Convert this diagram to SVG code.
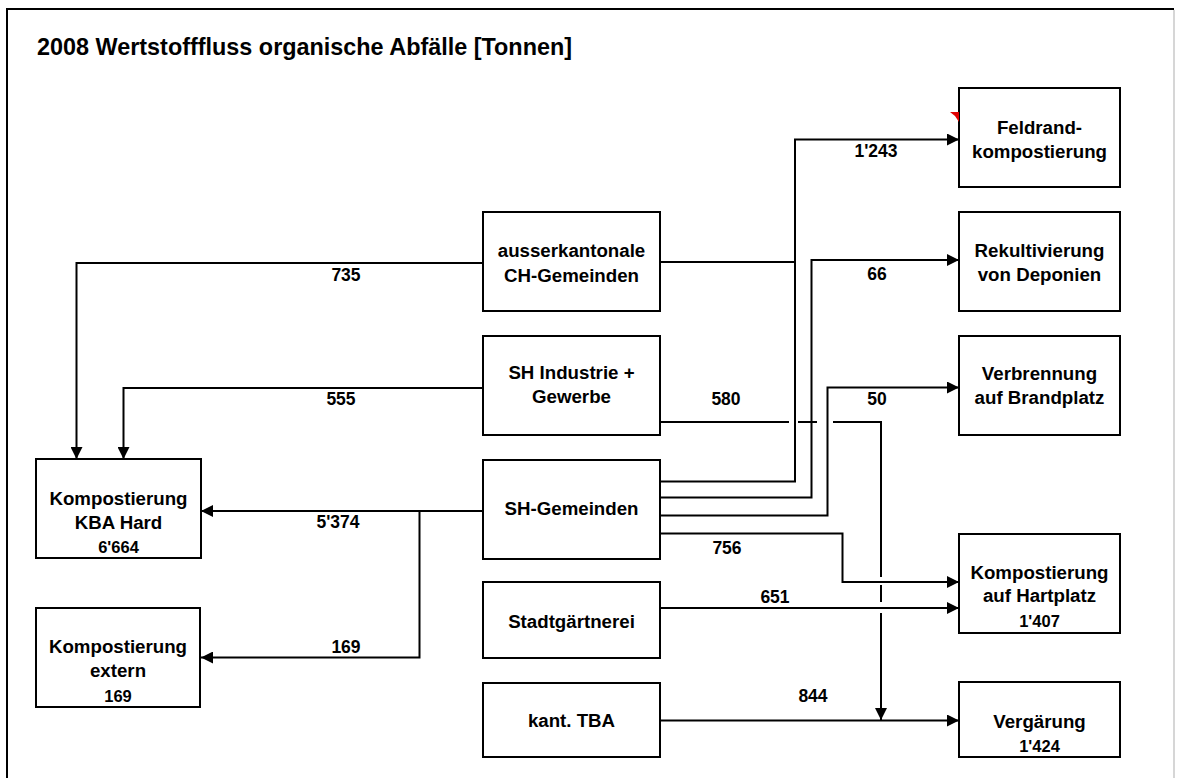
<svg xmlns="http://www.w3.org/2000/svg" width="1183" height="778" viewBox="0 0 1183 778">
<style>
.bx{fill:#fff;stroke:#000;stroke-width:2}
.t{font-family:"Liberation Sans",Arial,sans-serif;font-weight:bold;font-size:18.7px;fill:#000;text-anchor:middle}
.n{font-family:"Liberation Sans",Arial,sans-serif;font-weight:bold;font-size:16.5px;fill:#000;text-anchor:middle}
.f{font-family:"Liberation Sans",Arial,sans-serif;font-weight:bold;font-size:17.5px;fill:#000;text-anchor:middle}
.ln{fill:none;stroke:#000;stroke-width:2}
.ar{fill:none;stroke:#000;stroke-width:2;marker-end:url(#ah)}
</style>
<defs>
<marker id="ah" markerUnits="userSpaceOnUse" markerWidth="12" markerHeight="12" refX="12" refY="6" orient="auto">
<path d="M0,0 L12,6 L0,12 z" fill="#000"/>
</marker>
</defs>
<rect x="0" y="0" width="1183" height="778" fill="#fff"/>
<g id="frame">
<line x1="7" y1="9" x2="1174" y2="9" stroke="#000" stroke-width="2"/>
<line x1="7" y1="8" x2="7" y2="778" stroke="#000" stroke-width="2"/>
<line x1="1174" y1="10" x2="1174" y2="778" stroke="#c8c8c8" stroke-width="1.5"/>
</g>
<text id="title" x="37" y="55" font-family="'Liberation Sans',Arial,sans-serif" font-weight="bold" font-size="23.4">2008 Wertstofffluss organische Abfälle [Tonnen]</text>

<g id="connectors">
<path class="ar" d="M483,263 H76.5 V459"/>
<path class="ln" d="M660,262 H795"/>
<path class="ar" d="M483,388 H123.5 V459"/>
<path class="ln" d="M660,422 H789 M798,422 H817 M833,422 H881 V577 M881,585 V602"/>
<path class="ar" d="M881,613 V720"/>
<path class="ar" d="M483,511 H201"/>
<path class="ar" d="M419.5,511 V657.5 H201"/>
<path class="ar" d="M660,481.5 H795 V139.5 H959"/>
<path class="ar" d="M660,497.5 H811.5 V260 H959"/>
<path class="ar" d="M660,515.5 H827.5 V387.5 H959"/>
<path class="ar" d="M660,533.5 H842.5 V582 H959"/>
<path class="ar" d="M660,608 H959"/>
<path class="ar" d="M660,720.5 H959"/>
<text class="f" x="346" y="281">735</text>
<text class="f" x="341" y="405">555</text>
<text class="f" x="338" y="528">5'374</text>
<text class="f" x="346" y="653">169</text>
<text class="f" x="726" y="405">580</text>
<text class="f" x="877" y="405">50</text>
<text class="f" x="876" y="157">1'243</text>
<text class="f" x="877" y="280">66</text>
<text class="f" x="727" y="554">756</text>
<text class="f" x="775" y="603">651</text>
<text class="f" x="813" y="702">844</text>
</g>

<g id="feldrand">
<rect class="bx" x="959" y="88" width="161" height="99"/>
<text class="t" x="1039.5" y="134">Feldrand-</text>
<text class="t" x="1039.5" y="158">kompostierung</text>
<polygon points="950,112 959,112 959,122 955,116" fill="#e00000"/>
</g>
<g id="rekultivierung">
<rect class="bx" x="959" y="212" width="161" height="99"/>
<text class="t" x="1039.5" y="257">Rekultivierung</text>
<text class="t" x="1039.5" y="281">von Deponien</text>
</g>
<g id="verbrennung">
<rect class="bx" x="959" y="336" width="161" height="99"/>
<text class="t" x="1039.5" y="380">Verbrennung</text>
<text class="t" x="1039.5" y="404">auf Brandplatz</text>
</g>
<g id="hartplatz">
<rect class="bx" x="959" y="534" width="161" height="99"/>
<text class="t" x="1039.5" y="579">Kompostierung</text>
<text class="t" x="1039.5" y="602">auf Hartplatz</text>
<text class="n" x="1039.5" y="627">1'407</text>
</g>
<g id="vergaerung">
<rect class="bx" x="959" y="682" width="161" height="75"/>
<text class="t" x="1039.5" y="728">Vergärung</text>
<text class="n" x="1039.5" y="752">1'424</text>
</g>
<g id="ausserkantonale">
<rect class="bx" x="483" y="212" width="177" height="99"/>
<text class="t" x="571.5" y="257">ausserkantonale</text>
<text class="t" x="571.5" y="282">CH-Gemeinden</text>
</g>
<g id="sh-industrie">
<rect class="bx" x="483" y="336" width="177" height="99"/>
<text class="t" x="571.5" y="379">SH Industrie +</text>
<text class="t" x="571.5" y="403">Gewerbe</text>
</g>
<g id="sh-gemeinden">
<rect class="bx" x="483" y="460" width="177" height="99"/>
<text class="t" x="571.5" y="515">SH-Gemeinden</text>
</g>
<g id="stadtgaertnerei">
<rect class="bx" x="483" y="582" width="177" height="76"/>
<text class="t" x="571.5" y="628">Stadtgärtnerei</text>
</g>
<g id="kant-tba">
<rect class="bx" x="483" y="683" width="177" height="74"/>
<text class="t" x="571.5" y="727">kant. TBA</text>
</g>
<g id="kba-hard">
<rect class="bx" x="36" y="459" width="165" height="99"/>
<text class="t" x="118.5" y="505">Kompostierung</text>
<text class="t" x="118.5" y="529">KBA Hard</text>
<text class="n" x="118.5" y="553">6'664</text>
</g>
<g id="extern">
<rect class="bx" x="36" y="608" width="164" height="99"/>
<text class="t" x="118" y="653">Kompostierung</text>
<text class="t" x="118" y="677">extern</text>
<text class="n" x="118" y="702">169</text>
</g>
</svg>
